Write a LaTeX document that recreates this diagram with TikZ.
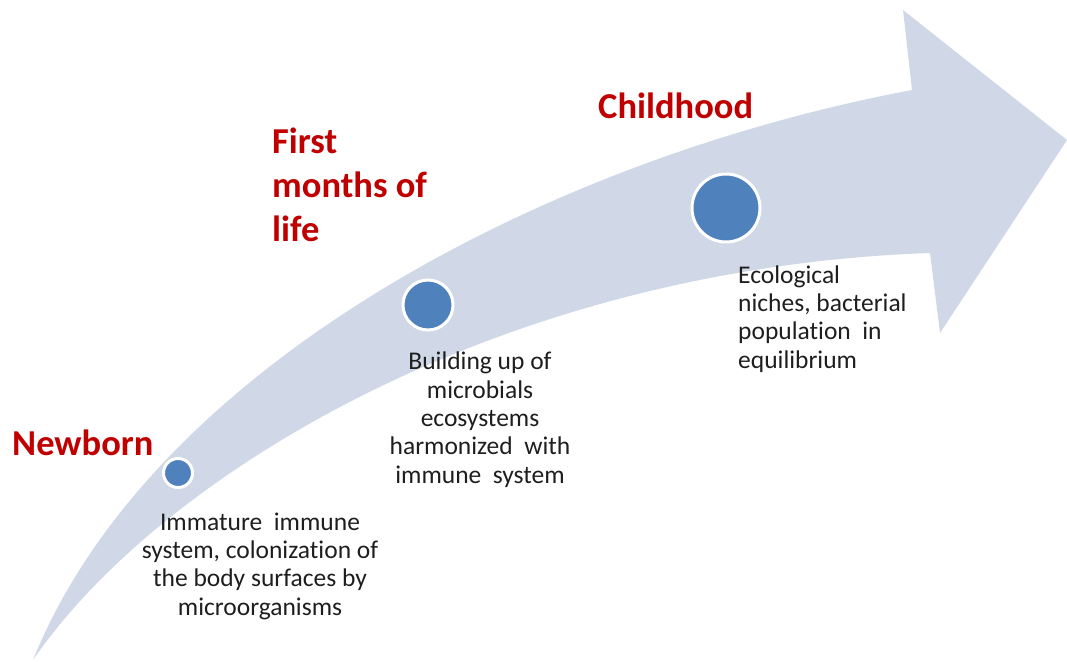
\documentclass[tikz,border=0pt]{standalone}
\usepackage{fontspec}
\setmainfont{Carlito}[Ligatures=NoCommon]
\definecolor{band}{HTML}{D0D8E8}
\definecolor{dot}{HTML}{4F81BD}
\definecolor{stage}{HTML}{C00000}
\definecolor{bodytext}{HTML}{1E1E1E}
\begin{document}
\begin{tikzpicture}[x=1pt,y=-1pt,
  stagelabel/.style={text=stage,font=\fontsize{36.5}{44}\selectfont\bfseries,align=left,inner sep=0pt},
  note/.style={text=bodytext,font=\fontsize{25.5}{28.3}\selectfont,inner sep=0pt},
  milestone/.style={circle,fill=dot,draw=white,line width=3pt,inner sep=0pt}]
\useasboundingbox (0,0) rectangle (1067,661);

% curved growth arrow
\fill[band] (33,660) .. controls (150,370) and (540,160) .. (912,90)
  -- (903,10) -- (1067,140) -- (940,333) -- (930,253)
  .. controls (500,268) and (160,475) .. cycle;

% milestones along the arrow
\node[milestone,minimum size=29pt] (m1) at (178,473) {};
\node[milestone,minimum size=50pt] (m2) at (428,305) {};
\node[milestone,minimum size=68pt] (m3) at (726,208) {};

% stage titles (base anchor = baseline of the last line)
\node[stagelabel,anchor=base west] (s1) at (12,455) {Newborn};
\node[stagelabel,anchor=base west] (s2) at (272,241) {First\\months of\\life};
\node[stagelabel,anchor=base west,fill=white,inner xsep=4pt,inner ysep=3pt] (s3) at (594,118) {Childhood};

% stage descriptions
\node[note,align=center,anchor=base] (t1) at (260,615)
  {Immature\ \ immune\\system, colonization of\\the body surfaces by\\microorganisms};
\node[note,align=center,anchor=base] (t2) at (480,483)
  {Building up of\\microbials\\ecosystems\\harmonized\ \ with\\immune\ \ system};
\node[note,align=left,anchor=base west] (t3) at (738,368)
  {Ecological\\niches, bacterial\\population\ \ in\\equilibrium};
\end{tikzpicture}
\end{document}
